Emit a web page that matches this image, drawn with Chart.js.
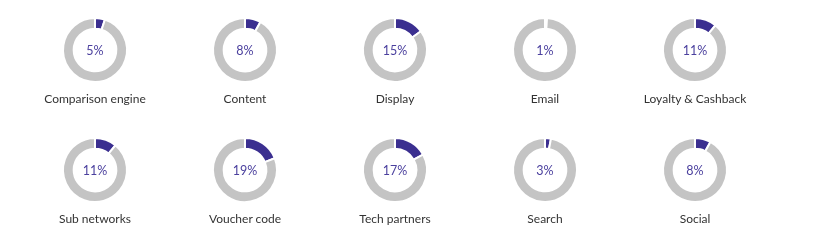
<!DOCTYPE html>
<html>
<head>
<meta charset="utf-8">
<script src="https://cdn.jsdelivr.net/npm/chart.js@4"></script>
<style>
  body { margin: 0; background: #fff; }
  #wrap { position: relative; width: 821px; height: 248px; overflow: hidden; font-family: Lato, "Open Sans", sans-serif; }
  .cell { position: absolute; width: 150px; height: 120px; }
  .cell canvas { position: absolute; left: 35px; top: 0; }
  .pct { position: absolute; left: 0; width: 150px; top: 32px; text-align: center; font-size: 12.5px; color: #4b409e; line-height: 18px; }
  .lbl { position: absolute; left: 0; width: 150px; top: 81px; text-align: center; font-size: 12px; color: #333; line-height: 16px; }
</style>
</head>
<body>
<div id="wrap"></div>
<script>
// Channel share values (percent)
const channels = ['Comparison engine', 'Content', 'Display', 'Email', 'Loyalty & Cashback',
                  'Sub networks', 'Voucher code', 'Tech partners', 'Search', 'Social'];
const shares = [5, 8, 15, 1, 11, 11, 19, 17, 3, 8];

const wrap = document.getElementById('wrap');

channels.forEach((name, i) => {
  const col = i % 5;
  const row = Math.floor(i / 5);
  const cell = document.createElement('div');
  cell.className = 'cell';
  cell.style.left = (20 + col * 150) + 'px';
  cell.style.top = (10 + row * 120) + 'px';
  cell.innerHTML = `
    <canvas width="80" height="80"></canvas>
    <div class="pct">${shares[i]}%</div>
    <div class="lbl">${name}</div>
  `;
  wrap.appendChild(cell);

  new Chart(cell.querySelector('canvas').getContext('2d'), {
    type: 'doughnut',
    data: {
      labels: [name, 'Other'],
      datasets: [{
        data: [shares[i], 100 - shares[i]],
        backgroundColor: ['#3b2f90', '#c4c4c4'],
        borderColor: '#fff',
        borderWidth: 2
      }]
    },
    options: {
      responsive: false,
      animation: false,
      radius: 32,
      cutout: 26,
      layout: { padding: 0 },
      plugins: { legend: { display: false }, tooltip: { enabled: false } }
    }
  });
});
</script>
</body>
</html>
